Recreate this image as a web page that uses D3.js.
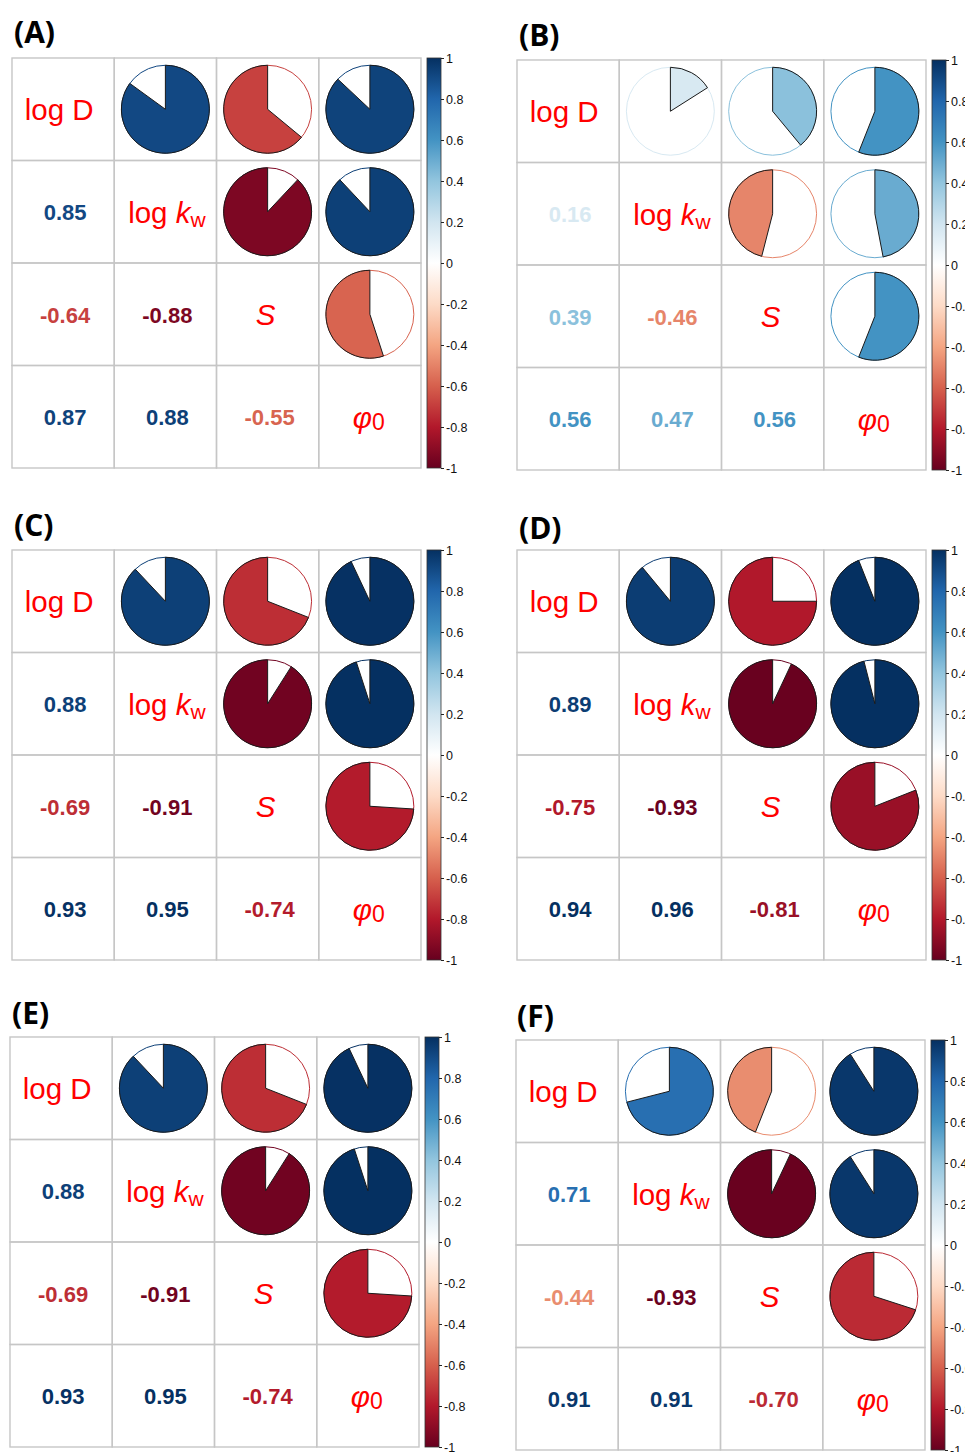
<!DOCTYPE html>
<html>
<head>
<meta charset="utf-8">
<script src="https://cdn.jsdelivr.net/npm/d3@7"></script>
<style>
  body { margin: 0; background: #fff; }
  text { font-family: "Liberation Sans", Arial, sans-serif; }
</style>
</head>
<body>
<svg id="chart" width="965" height="1452"></svg>
<script>
// variables in matrix order
const variables = ["logD", "logkw", "S", "phi0"];
// pair order used by every corr array below
const pairs = [["logD", "logkw"], ["logD", "S"], ["logD", "phi0"], ["logkw", "S"], ["logkw", "phi0"], ["S", "phi0"]];

const corrA = [0.85, -0.64, 0.87, -0.88, 0.88, -0.55];
const corrB = [0.16, 0.39, 0.56, -0.46, 0.47, 0.56];
const corrC = [0.88, -0.69, 0.93, -0.91, 0.95, -0.74];
const corrD = [0.89, -0.75, 0.94, -0.93, 0.96, -0.81];
const corrE = [0.88, -0.69, 0.93, -0.91, 0.95, -0.74];
const corrF = [0.71, -0.44, 0.91, -0.93, 0.91, -0.70];

const panelNames = ["(A)", "(B)", "(C)", "(D)", "(E)", "(F)"];
const legendTicks = [1, 0.8, 0.6, 0.4, 0.2, 0, -0.2, -0.4, -0.6, -0.8, -1];

// corrplot RdBu palette
const colorStops = ["#67001F", "#B2182B", "#D6604D", "#F4A582", "#FDDBC7", "#FFFFFF",
                    "#D1E5F0", "#92C5DE", "#4393C3", "#2166AC", "#053061"];
const stopValues = [-1, -0.8, -0.6, -0.4, -0.2, 0, 0.2, 0.4, 0.6, 0.8, 1];

const baseColor = d3.scaleLinear().domain(stopValues).range(colorStops).interpolate(d3.interpolateRgb);
// marks in the printed figure sit a little deeper in the palette than the bar
function color(v) {
    return baseColor(Math.max(-1, Math.min(1, v * 1.07)));
}

const svg = d3.select("#chart");

// shared gradient for the colour bars
const grad = svg.append("defs").append("linearGradient")
    .attr("id", "cbar")
    .attr("x1", 0).attr("y1", 1).attr("x2", 0).attr("y2", 0);
grad.selectAll("stop")
    .data(stopValues)
    .enter()
    .append("stop")
    .attr("offset", d => (d + 1) / 2)
    .attr("stop-color", d => baseColor(d));

const layout = [
    { x: 12,  y: 58,   lx: 14,  ly: 43 },
    { x: 517, y: 60,   lx: 519, ly: 46 },
    { x: 12,  y: 550,  lx: 14,  ly: 536 },
    { x: 517, y: 550,  lx: 519, ly: 539 },
    { x: 10,  y: 1037, lx: 12,  ly: 1024 },
    { x: 516, y: 1040, lx: 517, ly: 1027 }
];
const allCorr = [corrA, corrB, corrC, corrD, corrE, corrF];

// small horizontal nudges so the labels sit like the original
const labelShift = { logD: -4, logkw: 1.5, S: -2, phi0: -1 };

function addLabel(g, v) {
    const t = g.append("text")
        .attr("text-anchor", "middle")
        .attr("dominant-baseline", "central")
        .attr("fill", "#FF0000")
        .style("font-size", "29.5px");
    if (v === "logD") {
        t.text("log D");
    } else if (v === "logkw") {
        t.append("tspan").text("log ");
        t.append("tspan").attr("font-style", "italic").text("k");
        t.append("tspan").attr("dy", 7).style("font-size", "21px").text("w");
    } else if (v === "S") {
        t.append("tspan").attr("font-style", "italic").text("S");
    } else {
        t.append("tspan").attr("font-style", "italic").text("\u03C6");
        t.append("tspan").attr("dy", 5).style("font-size", "23px").text("0");
    }
    return t;
}

function drawPanel(corr, name, pos) {
    const w = 409, h = 410;
    const g = svg.append("g");

    const x = d3.scaleBand().domain(variables).range([pos.x, pos.x + w]);
    const y = d3.scaleBand().domain(variables).range([pos.y, pos.y + h]);

    // lookup of r for any pair
    const r = {};
    pairs.forEach((p, i) => {
        r[p[0] + "|" + p[1]] = corr[i];
        r[p[1] + "|" + p[0]] = corr[i];
    });

    const cells = [];
    variables.forEach((rv, i) => variables.forEach((cv, j) => {
        cells.push({ row: rv, col: cv, i: i, j: j, value: i === j ? 1 : r[rv + "|" + cv] });
    }));

    // grid
    g.selectAll(".cell")
        .data(cells)
        .enter()
        .append("rect")
        .attr("class", "cell")
        .attr("x", d => x(d.col))
        .attr("y", d => y(d.row))
        .attr("width", x.bandwidth())
        .attr("height", y.bandwidth())
        .attr("fill", "none")
        .attr("stroke", "#c6c6c6")
        .attr("stroke-width", 1.4);

    // diagonal labels
    cells.filter(d => d.i === d.j).forEach(d => {
        addLabel(g, d.row)
            .attr("x", x(d.col) + x.bandwidth() / 2 + labelShift[d.row])
            .attr("y", y(d.row) + y.bandwidth() / 2);
    });

    // lower triangle numbers
    g.selectAll(".num")
        .data(cells.filter(d => d.i > d.j))
        .enter()
        .append("text")
        .attr("class", "num")
        .attr("x", d => x(d.col) + x.bandwidth() / 2 + 2)
        .attr("y", d => y(d.row) + y.bandwidth() / 2 + 1)
        .attr("text-anchor", "middle")
        .attr("dominant-baseline", "central")
        .attr("font-weight", "bold")
        .style("font-size", "22px")
        .attr("fill", d => color(d.value))
        .text(d => d.value.toFixed(2));

    // upper triangle pies
    const rad = x.bandwidth() * 0.43;
    const arc = d3.arc().innerRadius(0).outerRadius(rad).startAngle(0);
    const pies = g.selectAll(".pie")
        .data(cells.filter(d => d.i < d.j))
        .enter()
        .append("g")
        .attr("class", "pie")
        .attr("transform", d => `translate(${x(d.col) + x.bandwidth() / 2},${y(d.row) + y.bandwidth() / 2})`);
    pies.append("circle")
        .attr("r", rad)
        .attr("fill", "#fff")
        .attr("stroke", d => color(d.value))
        .attr("stroke-width", 1);
    pies.append("path")
        .attr("d", d => arc({ endAngle: d.value * 2 * Math.PI }))
        .attr("fill", d => color(d.value))
        .attr("stroke", "#1a1a1a")
        .attr("stroke-width", 1);

    // colour bar
    const bx = pos.x + w + 6, bw = 14;
    const ly = d3.scaleLinear().domain([-1, 1]).range([pos.y + h, pos.y]);
    g.append("rect")
        .attr("x", bx)
        .attr("y", ly(1))
        .attr("width", bw)
        .attr("height", ly(-1) - ly(1))
        .attr("fill", "url(#cbar)")
        .attr("stroke", "#333")
        .attr("stroke-width", 0.8);
    const axis = g.append("g")
        .attr("transform", `translate(${bx + bw},0)`)
        .call(d3.axisRight(ly).tickValues(legendTicks).tickSize(3).tickPadding(2).tickFormat(d => String(d)));
    axis.select(".domain").remove();
    axis.selectAll("line").attr("stroke", "#222");
    axis.selectAll("text")
        .style("font-size", "12.5px")
        .style("font-family", "'Liberation Sans', Arial, sans-serif")
        .attr("fill", "#111");

    // panel label
    svg.append("text")
        .attr("x", pos.lx)
        .attr("y", pos.ly)
        .style("font-family", "'Open Sans', sans-serif")
        .style("font-size", "30px")
        .attr("font-weight", "bold")
        .attr("fill", "#000")
        .text(name);
}

allCorr.forEach((c, i) => drawPanel(c, panelNames[i], layout[i]));
</script>
</body>
</html>
